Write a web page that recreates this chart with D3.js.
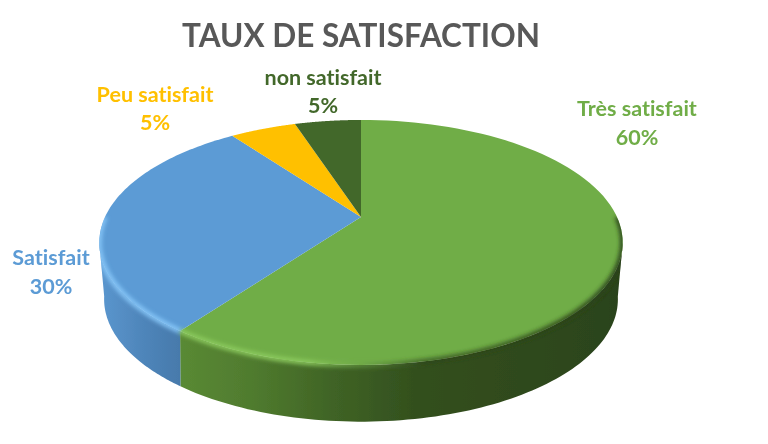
<!DOCTYPE html>
<html><head><meta charset="utf-8">
<script src="https://cdn.jsdelivr.net/npm/d3@7/dist/d3.min.js"></script>
<style>html,body{margin:0;padding:0;background:#fff}svg{display:block}text{font-family:Lato,"Open Sans",sans-serif;font-weight:700;text-anchor:middle;font-variant-ligatures:none}</style>
</head><body><svg id="c" width="768" height="444"></svg>
<script>
const categories = ["Très satisfait","Satisfait","Peu satisfait","non satisfait"];
const values = [60,30,5,5];
const valueLabels = ["60%","30%","5%","5%"];
const colors = ["#70ad47","#5b9bd5","#ffc000","#43682b"];
const titleText = "TAUX DE SATISFACTION";

(function(){
const svg = d3.select("#c");
const defs = svg.append("defs");
const pie = d3.pie().sort(null).value(d=>d)(values);

// perspective projection of the disc
const proj = (o)=>(ang)=>{const x=Math.sin(ang),y=-Math.cos(ang),w=1-o.p*y;return [o.cx+o.a*x/w,o.cy+o.b*y/w];};
const topRim = proj({cx:361,cy:217,a:256,b:117.2,p:0.208});
const botRim = proj({cx:361,cy:271,a:250,b:116,p:0.23});
const line = d3.line();
const arcPts=(f,a0,a1)=>d3.range(0,91).map(i=>f(a0+(a1-a0)*i/90));
const apex=[361,217];

function grad(id,stops){
  const g=defs.append("linearGradient").attr("id",id).attr("gradientUnits","userSpaceOnUse")
    .attr("x1",99).attr("x2",623).attr("y1",0).attr("y2",0);
  stops.forEach(s=>g.append("stop").attr("offset",s[0]).attr("stop-color",s[1]).attr("stop-opacity",s[2]===undefined?1:s[2]));
}
grad("sideG",[[0,"#5f9437"],[0.16,"#598934"],[0.3,"#4f7a2e"],[0.45,"#3f6325"],[0.6,"#33501e"],[1,"#2b431a"]]);
grad("sideB",[[0,"#5b97cf"],[0.08,"#4f86bb"],[0.17,"#4577a8"]]);
grad("rimG",[[0.14,"#8ccb5e"],[0.4,"#8ccb5e"],[0.5,"#6fa548",0.6],[0.62,"#2b431a",0.7],[1,"#2b431a"]]);
grad("rimB",[[0,"#86c6f8"],[0.17,"#86c6f8"]]);
defs.append("filter").attr("id","blur").attr("x","-5%").attr("y","-5%").attr("width","110%").attr("height","110%")
  .append("feGaussianBlur").attr("stdDeviation",2);
defs.append("filter").attr("id","soft").append("feGaussianBlur").attr("stdDeviation",0.5);

const g = svg.append("g").attr("filter","url(#soft)");
const limit=[Math.PI*0.567,Math.PI*1.433];
const sides=[[0,"sideG"],[1,"sideB"]];
sides.forEach(([i,id])=>{
  const a0=Math.max(pie[i].startAngle,limit[0]),a1=Math.min(pie[i].endAngle,limit[1]);
  const pts=arcPts(topRim,a0,a1).concat(arcPts(botRim,a1,a0));
  g.append("path").attr("d",line(pts)+"Z").attr("fill",`url(#${id})`);
});
pie.forEach((p,i)=>{
  const pts=[apex].concat(arcPts(topRim,p.startAngle,p.endAngle));
  g.append("path").attr("d",line(pts)+"Z").attr("fill",colors[i]);
});
// bevel on the rim
const clip=defs.append("clipPath").attr("id","all");
clip.append("path").attr("d",line(arcPts(topRim,0,2*Math.PI))+"Z");
clip.append("path").attr("d",line(arcPts(topRim,limit[0],limit[1]).concat(arcPts(botRim,limit[1],limit[0])))+"Z");
const rim=g.append("g").attr("clip-path","url(#all)");
[[0,"rimG",Math.PI*0.5,pie[0].endAngle],[1,"rimB",pie[1].startAngle,Math.PI*1.5]].forEach(([i,id,a0,a1])=>{
  rim.append("path").attr("d",line(arcPts(topRim,a0,a1))).attr("fill","none")
    .attr("stroke",`url(#${id})`).attr("stroke-width",5).attr("filter","url(#blur)");
});

const titleG=svg.append("g").attr("filter","url(#soft)");
titleG.append("text").attr("x",361).attr("y",47).attr("font-size",31.5).attr("fill","#595959").text(titleText);
const labelAt=[[637,116,145],[51,265,294],[155,102,130],[323,85,113]];
categories.forEach((c,i)=>{
  const [x,y1,y2]=labelAt[i];
  const t=titleG.append("g").attr("fill",colors[i]).attr("font-size",21.5);
  t.append("text").attr("x",x).attr("y",y1).text(c);
  t.append("text").attr("x",x).attr("y",y2).text(valueLabels[i]);
});
})();
</script></body></html>
